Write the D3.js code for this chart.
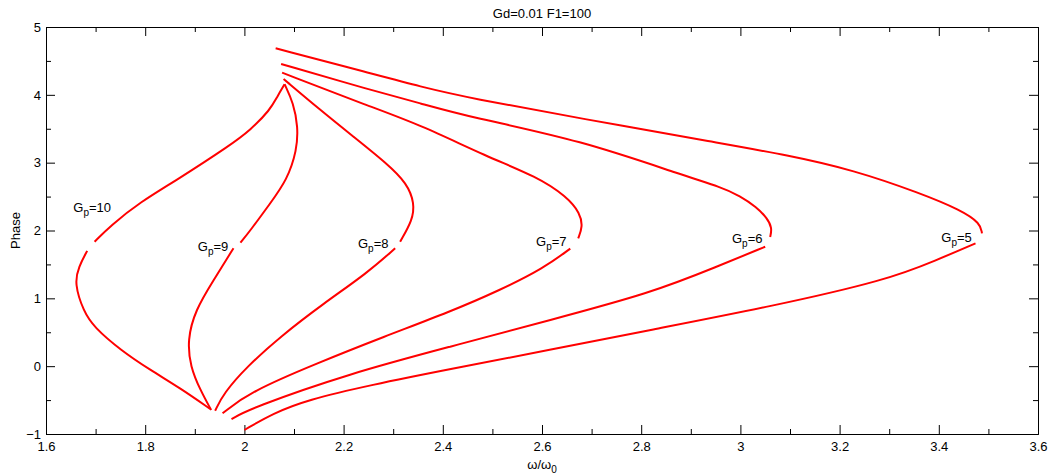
<!DOCTYPE html>
<html>
<head>
<meta charset="utf-8">
<script src="https://cdn.jsdelivr.net/npm/d3@7"></script>
<style>
  body { margin: 0; background: #fff; }
  svg text { font-family: "Liberation Sans", Arial, sans-serif; }
</style>
</head>
<body>
<svg id="chart"></svg>
<script>
// chart size
const width = 1051;
const height = 475;
const margin = {top: 27, right: 13, bottom: 41, left: 46};

const LINE_COLOR = "#ff0000";

// each Gp curve is drawn in two pieces, broken where its label sits
const gp10Upper = [[2.081,4.156],[2.066,3.97],[2.052,3.78],[2.012,3.48],[1.972,3.26],[1.864,2.745],[1.79,2.42],[1.73,2.07],[1.698,1.835]];
const gp10Lower = [[1.683,1.70],[1.666,1.467],[1.657,1.222],[1.676,0.803],[1.696,0.582],[1.75,0.238],[1.81,-0.056],[1.871,-0.326],[1.931,-0.631]];

const gp9Upper = [[2.081,4.156],[2.099,3.875],[2.108,3.53],[2.106,3.187],[2.086,2.745],[2.052,2.40],[2.012,2.0],[1.992,1.82]];
const gp9Lower = [[1.978,1.738],[1.938,1.27],[1.901,0.828],[1.885,0.386],[1.891,-0.008],[1.911,-0.351],[1.933,-0.646]];

const gp8Upper = [[2.079,4.234],[2.153,3.777],[2.22,3.383],[2.287,2.99],[2.328,2.696],[2.343,2.40],[2.339,2.155],[2.314,1.835]];
const gp8Lower = [[2.304,1.738],[2.247,1.37],[2.16,0.927],[2.072,0.434],[2.005,-0.008],[1.958,-0.40],[1.941,-0.657]];

const gp7Upper = [[2.076,4.327],[2.254,3.825],[2.355,3.556],[2.489,3.088],[2.59,2.793],[2.650,2.499],[2.677,2.254],[2.682,2.056],[2.673,1.885]];
const gp7Lower = [[2.657,1.733],[2.603,1.443],[2.516,1.123],[2.415,0.803],[2.281,0.434],[2.146,0.042],[2.012,-0.376],[1.956,-0.695]];

const gp6Upper = [[2.074,4.455],[2.254,4.072],[2.355,3.875],[2.456,3.669],[2.677,3.334],[2.892,2.793],[2.959,2.646],[3.0,2.509],[3.032,2.347],[3.054,2.184],[3.064,2.037],[3.06,1.904]];
const gp6Lower = [[3.05,1.761],[2.953,1.467],[2.818,1.074],[2.617,0.681],[2.415,0.287],[2.213,-0.105],[2.012,-0.621],[1.974,-0.78]];

const gp5Upper = [[2.063,4.686],[2.254,4.318],[2.355,4.12],[2.456,3.949],[2.677,3.654],[2.959,3.286],[3.094,3.113],[3.228,2.892],[3.363,2.549],[3.444,2.302],[3.484,2.106],[3.487,1.959]];
const gp5Lower = [[3.474,1.811],[3.396,1.565],[3.296,1.27],[3.06,0.877],[2.818,0.533],[2.615,0.238],[2.415,-0.042],[2.254,-0.278],[2.126,-0.499],[2.058,-0.695],[2.0,-0.941]];

// curve labels: value and where the text starts (data units, baseline)
const labelValues = ["10", "9", "8", "7", "6", "5"];
const labelX = [1.655, 1.906, 2.229, 2.588, 2.983, 3.405];
const labelY = [2.28, 1.705, 1.742, 1.775, 1.822, 1.836];

const xTicks = [1.6, 1.8, 2, 2.2, 2.4, 2.6, 2.8, 3, 3.2, 3.4, 3.6];
const yTicks = [-1, 0, 1, 2, 3, 4, 5];

const innerW = width - margin.left - margin.right;
const innerH = height - margin.top - margin.bottom;

const svg = d3.select("#chart")
  .attr("width", width)
  .attr("height", height);

const g = svg.append("g")
  .attr("transform", `translate(${margin.left},${margin.top})`);

const x = d3.scaleLinear().domain([1.6, 3.6]).range([0, innerW]);
const y = d3.scaleLinear().domain([-1, 5]).range([innerH, 0]);

// minor tick positions halfway between the major ones
const xMinor = d3.range(1.7, 3.6, 0.2);
const yMinor = d3.range(-0.5, 5, 1);

// box and ticks, all pointing inwards like matlab
function styleAxis(sel) {
  sel.selectAll("path, line").attr("stroke", "#000");
  sel.selectAll("text")
    .attr("fill", "#000")
    .style("font-size", "13px");
}

g.append("g")
  .attr("transform", `translate(0,${innerH})`)
  .call(d3.axisBottom(x).tickValues(xTicks).tickFormat(d3.format("")).tickSize(-9).tickSizeOuter(0).tickPadding(8))
  .call(styleAxis);
g.append("g")
  .attr("transform", `translate(0,${innerH})`)
  .call(d3.axisBottom(x).tickValues(xMinor).tickFormat("").tickSize(-5).tickSizeOuter(0))
  .call(styleAxis);
g.append("g")
  .call(d3.axisTop(x).tickValues(xTicks).tickFormat("").tickSize(-9).tickSizeOuter(0))
  .call(styleAxis);
g.append("g")
  .call(d3.axisTop(x).tickValues(xMinor).tickFormat("").tickSize(-5).tickSizeOuter(0))
  .call(styleAxis);

g.append("g")
  .call(d3.axisLeft(y).tickValues(yTicks).tickFormat(d3.format("")).tickSize(-9).tickSizeOuter(0).tickPadding(5))
  .call(styleAxis);
g.append("g")
  .call(d3.axisLeft(y).tickValues(yMinor).tickFormat("").tickSize(-5).tickSizeOuter(0))
  .call(styleAxis);
g.append("g")
  .attr("transform", `translate(${innerW},0)`)
  .call(d3.axisRight(y).tickValues(yTicks).tickFormat("").tickSize(-9).tickSizeOuter(0))
  .call(styleAxis);
g.append("g")
  .attr("transform", `translate(${innerW},0)`)
  .call(d3.axisRight(y).tickValues(yMinor).tickFormat("").tickSize(-5).tickSizeOuter(0))
  .call(styleAxis);

// the curves, smoothed through the read-off points
const line = d3.line()
  .x(d => x(d[0]))
  .y(d => y(d[1]))
  .curve(d3.curveBasis);

const pieces = [gp10Upper, gp10Lower, gp9Upper, gp9Lower, gp8Upper, gp8Lower,
                gp7Upper, gp7Lower, gp6Upper, gp6Lower, gp5Upper, gp5Lower];

g.selectAll("path.curve")
  .data(pieces)
  .enter()
  .append("path")
  .attr("class", "curve")
  .attr("d", line)
  .attr("fill", "none")
  .attr("stroke", LINE_COLOR)
  .attr("stroke-width", 2)
  .attr("stroke-linecap", "butt");

// Gp labels
labelValues.forEach((v, i) => {
  const t = g.append("text")
    .attr("x", x(labelX[i]))
    .attr("y", y(labelY[i]))
    .attr("fill", "#000")
    .style("font-size", "13px");
  t.append("tspan").text("G");
  t.append("tspan").attr("dy", 4).style("font-size", "10px").text("p");
  t.append("tspan").attr("dy", -4).text("=" + v);
});

// title and axis labels
svg.append("text")
  .attr("x", margin.left + innerW / 2)
  .attr("y", 17.5)
  .attr("text-anchor", "middle")
  .style("font-size", "13px")
  .text("Gd=0.01 F1=100");

const xl = svg.append("text")
  .attr("x", margin.left + innerW / 2)
  .attr("y", 469)
  .attr("text-anchor", "middle")
  .style("font-size", "13px");
xl.append("tspan").text("ω/ω");
xl.append("tspan").attr("dy", 4).style("font-size", "10px").text("0");

svg.append("text")
  .attr("transform", `translate(20,${margin.top + innerH / 2}) rotate(-90)`)
  .attr("text-anchor", "middle")
  .style("font-size", "13px")
  .text("Phase");
</script>
</body>
</html>
